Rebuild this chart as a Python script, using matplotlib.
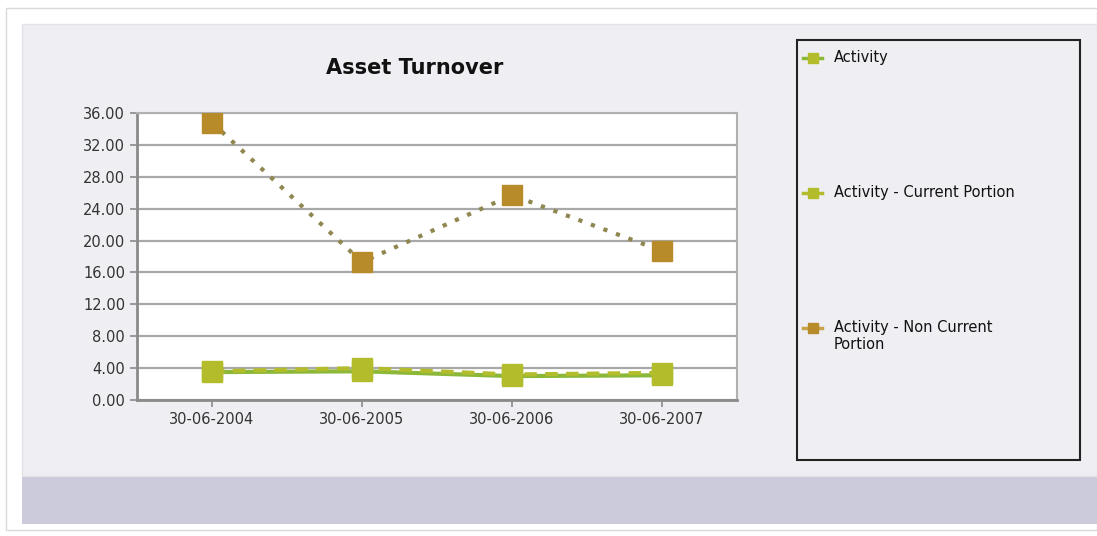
import matplotlib
matplotlib.use("Agg")
import matplotlib.pyplot as plt
from matplotlib.patches import Rectangle
from matplotlib.lines import Line2D

# Chart data
categories = ["30-06-2004", "30-06-2005", "30-06-2006", "30-06-2007"]
activity = [3.5, 3.6, 3.0, 3.1]
activity_current = [3.6, 4.0, 3.2, 3.4]
activity_non_current = [34.8, 17.3, 25.7, 18.7]
series_names = ["Activity", "Activity - Current Portion", "Activity - Non Current\nPortion"]
y_ticks = [0, 4, 8, 12, 16, 20, 24, 28, 32, 36]

W, H = 1097, 536
fig = plt.figure(figsize=(W / 100, H / 100), dpi=100)
fig.patch.set_facecolor("white")

def fx(px):
    return px / W

def fy(py):
    return 1 - py / H

# Page frame, panel and footer band
fig.patches.append(Rectangle((fx(6), fy(530)), fx(1097 - 6), (530 - 8) / H,
                             transform=fig.transFigure, facecolor="white",
                             edgecolor="#d8d8de", lw=1.0, zorder=-3))
fig.patches.append(Rectangle((fx(22), fy(476)), fx(1097 - 22), (476 - 24) / H,
                             transform=fig.transFigure, facecolor="#efeff3",
                             edgecolor="#e2e2e8", lw=1.0, zorder=-2))
fig.patches.append(Rectangle((fx(22), fy(524)), fx(1097 - 22), (524 - 477) / H,
                             transform=fig.transFigure, facecolor="#cbcbdb",
                             edgecolor="none", zorder=-2))

ax = fig.add_axes([fx(137), fy(400), fx(600), 287 / H])
ax.set_zorder(2)
ax.set_facecolor("white")
x = list(range(len(categories)))

green = "#8cb83a"
olive = "#b3bc2a"
gold = "#b88b2a"

ax.plot(x, activity, color=green, lw=3, ls="-", marker="s", ms=14,
        mfc=olive, mec=olive, zorder=3)
ax.plot(x, activity_current, color=olive, lw=3, ls=(0, (3, 2)), marker="s", ms=14,
        mfc=olive, mec=olive, zorder=4)
ax.plot(x, activity_non_current, color="#8f8650", lw=3, ls=(0, (1, 2.2)),
        marker="s", ms=14, mfc=gold, mec=gold, zorder=4)

ax.set_xlim(-0.5, 3.5)
ax.set_ylim(0, 36)
ax.set_yticks(y_ticks)
ax.set_yticklabels([f"{v:.2f}" for v in y_ticks])
ax.set_xticks(x)
ax.set_xticklabels(categories)
ax.yaxis.grid(True, color="#a8a8a8", lw=1.6)
ax.set_axisbelow(True)
ax.tick_params(axis="both", colors="#8a8a8a", labelcolor="#333333",
               labelsize=10.5, length=5, width=1.2)
for s in ("top", "right"):
    ax.spines[s].set_color("#b0b0b0")
    ax.spines[s].set_linewidth(1.5)
for s in ("left", "bottom"):
    ax.spines[s].set_color("#8a8a8a")
    ax.spines[s].set_linewidth(2)

fig.text(fx(415), fy(68), "Asset Turnover", ha="center", va="center",
         fontsize=15, fontweight="bold", color="#111111")

# Legend box
fig.patches.append(Rectangle((fx(797), fy(460)), fx(1080 - 797), (460 - 40) / H,
                             transform=fig.transFigure, facecolor="#efeff3",
                             edgecolor="#222222", lw=1.5, zorder=1))
legend_rows = [(58, green, olive), (193, olive, olive), (328, "#c9a24a", gold)]
for (py, lc, mc), name in zip(legend_rows, series_names):
    fig.lines.append(Line2D([fx(803), fx(822)], [fy(py), fy(py)],
                            transform=fig.transFigure, color=lc, lw=2.5,
                            zorder=2))
    fig.lines.append(Line2D([fx(812.5)], [fy(py)], transform=fig.transFigure,
                            color=mc, marker="s", ms=7, ls="none", zorder=3))
    fig.text(fx(834), fy(py - 8), name, ha="left", va="top",
             fontsize=10.5, color="#111111", linespacing=1.2)

fig.savefig("out.png", dpi=100, facecolor="white")
